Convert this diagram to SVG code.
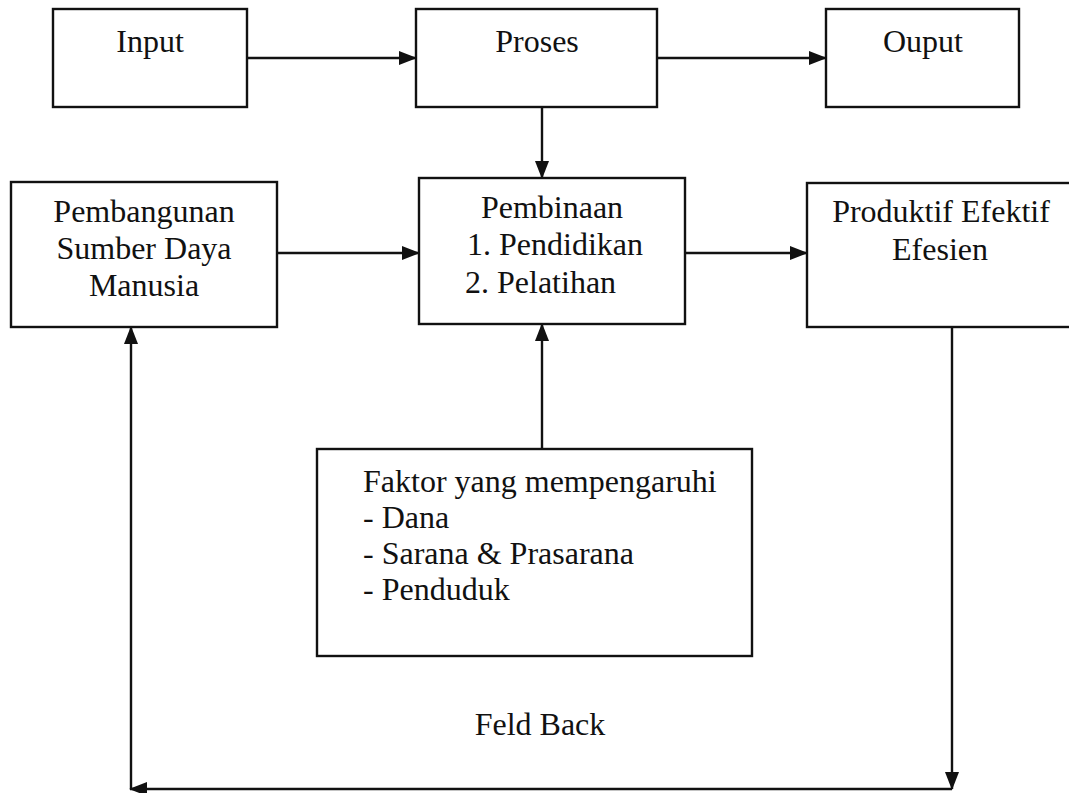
<svg xmlns="http://www.w3.org/2000/svg" width="1069" height="793" viewBox="0 0 1069 793">
<style>
.box{fill:#fff;stroke:#111;stroke-width:2.4}
.t{font-family:"Liberation Serif","Times New Roman",serif;font-size:32px;fill:#111}
.c{text-anchor:middle}
.ln{fill:none;stroke:#111;stroke-width:2.4}
</style>
<defs>
<marker id="ah" markerWidth="18" markerHeight="14" refX="17" refY="7" orient="auto" markerUnits="userSpaceOnUse">
<path d="M0,0 L18,7 L0,14 Z" fill="#111"/>
</marker>
</defs>
<rect width="1069" height="793" fill="#fff"/>
<g id="connectors">
<line class="ln" x1="247" y1="58" x2="416" y2="58" marker-end="url(#ah)"/>
<line class="ln" x1="657" y1="58" x2="826" y2="58" marker-end="url(#ah)"/>
<line class="ln" x1="542" y1="107" x2="542" y2="178" marker-end="url(#ah)"/>
<line class="ln" x1="277" y1="253" x2="419" y2="253" marker-end="url(#ah)"/>
<line class="ln" x1="685" y1="253" x2="807" y2="253" marker-end="url(#ah)"/>
<line class="ln" x1="542" y1="449" x2="542" y2="324" marker-end="url(#ah)"/>
<line class="ln" x1="952" y1="327" x2="952" y2="789" marker-end="url(#ah)"/>
<line class="ln" x1="952" y1="789" x2="130" y2="789" marker-end="url(#ah)"/>
<line class="ln" x1="131" y1="789" x2="131" y2="327" marker-end="url(#ah)"/>
<text class="t c" x="540" y="735">Feld Back</text>
</g>
<g id="input">
<rect class="box" x="53" y="9" width="194" height="98"/>
<text class="t c" x="150" y="52">Input</text>
</g>
<g id="proses">
<rect class="box" x="416" y="9" width="241" height="98"/>
<text class="t c" x="537" y="52">Proses</text>
</g>
<g id="ouput">
<rect class="box" x="826" y="9" width="193" height="98"/>
<text class="t c" x="923" y="52">Ouput</text>
</g>
<g id="pembangunan">
<rect class="box" x="11" y="182" width="266" height="145"/>
<text class="t c" x="144" y="222">Pembangunan</text>
<text class="t c" x="144" y="259">Sumber Daya</text>
<text class="t c" x="144" y="296">Manusia</text>
</g>
<g id="pembinaan">
<rect class="box" x="419" y="178" width="266" height="146"/>
<text class="t c" x="552" y="218">Pembinaan</text>
<text class="t" x="467" y="255">1. Pendidikan</text>
<text class="t" x="465" y="293">2. Pelatihan</text>
</g>
<g id="produktif">
<rect class="box" x="807" y="183" width="270" height="144"/>
<text class="t c" x="941" y="222">Produktif Efektif</text>
<text class="t c" x="940" y="260">Efesien</text>
</g>
<g id="faktor">
<rect class="box" x="317" y="449" width="435" height="207"/>
<text class="t" x="363" y="492">Faktor yang mempengaruhi</text>
<text class="t" x="363" y="528">- Dana</text>
<text class="t" x="363" y="564">- Sarana &amp; Prasarana</text>
<text class="t" x="363" y="600">- Penduduk</text>
</g>
</svg>
